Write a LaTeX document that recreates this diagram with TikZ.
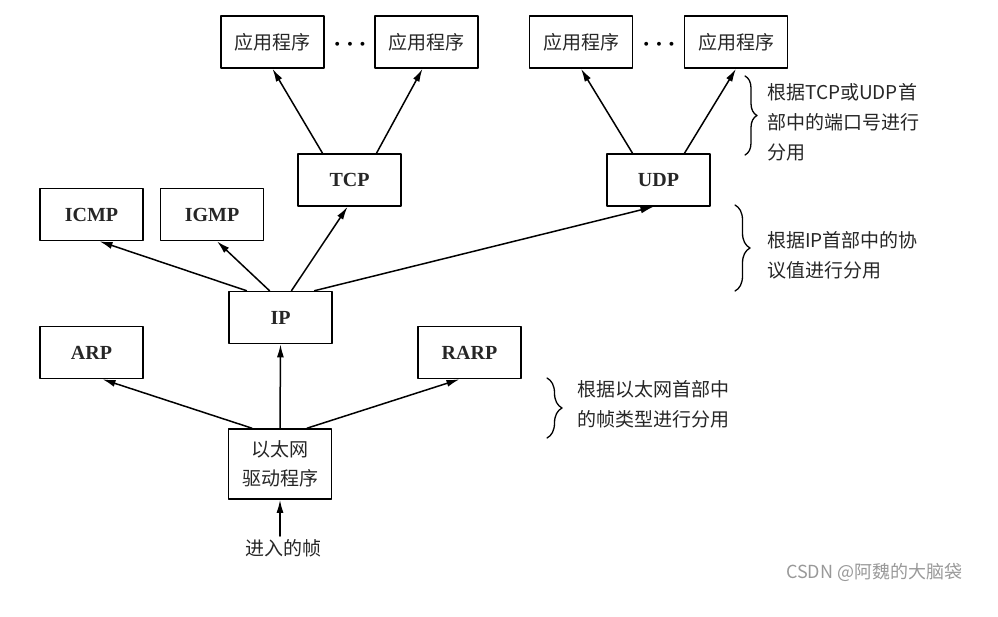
\documentclass[tikz,border=0pt]{standalone}
\usepackage{fontspec}
\setmainfont{Liberation Serif}
\newfontfamily\cjk{Noto Sans CJK SC}
\newfontfamily\wmfont{Noto Sans CJK SC}
\usetikzlibrary{calc,arrows.meta,decorations.pathreplacing}

\begin{document}
\begin{tikzpicture}[x=1pt,y=-1pt,line cap=round,line join=round,
    modul/.style={draw, line width=1.6pt, minimum width=103pt, minimum height=52pt, inner sep=0pt,
                  text=black!85, font=\bfseries\fontsize{20}{22}\selectfont},
    cjkmodul/.style={modul, font=\cjk\fontsize{19}{29}\selectfont, align=center},
    pfeil/.style={-{Latex[length=13pt,width=7pt]}, line width=1.5pt},
    zhu/.style={font=\cjk\fontsize{19}{30}\selectfont, text=black!85, align=left, anchor=west, inner sep=0pt},
    klammer/.style={decorate, decoration={brace, amplitude=#1}, line width=1.3pt},
    punkte/.style={font=\boldmath\fontsize{24}{24}\selectfont, inner sep=0pt}]
    \useasboundingbox (0,0) rectangle (998,616);

    % 应用程序层
    \node[cjkmodul] (app1) at (272.5,42) {应用程序};
    \node[cjkmodul] (app2) at (426.5,42) {应用程序};
    \node[cjkmodul] (app3) at (581,42) {应用程序};
    \node[cjkmodul] (app4) at (736,42) {应用程序};
    \node[punkte] (dots1) at (350,45) {$\cdots$};
    \node[punkte] (dots2) at (659,45) {$\cdots$};

    % 传输层与网络层
    \node[modul] (tcp) at (349.5,180) {TCP};
    \node[modul] (udp) at (658.5,180) {UDP};
    \node[modul] (icmp) at (91.5,214.5) {ICMP};
    \node[modul] (igmp) at (212,214.5) {IGMP};
    \node[modul] (ip) at (280.5,317.5) {IP};
    \node[modul] (arp) at (91.5,352.5) {ARP};
    \node[modul] (rarp) at (469.5,352.5) {RARP};

    % 以太网驱动程序
    \node[cjkmodul, minimum height=70pt] (eth) at (280,464) {以太网\\驱动程序};
    \node[font=\cjk\fontsize{19}{22}\selectfont, text=black!85, inner sep=3pt] (ein) at (283,548) {进入的帧};

    % 分用箭头
    \draw[pfeil] ($(tcp.north)+(-27,0)$) -- (app1.south);
    \draw[pfeil] ($(tcp.north)+(27,0)$) -- ($(app2.south)+(-4,0)$);
    \draw[pfeil] ($(udp.north)+(-26,0)$) -- (app3.south);
    \draw[pfeil] ($(udp.north)+(26,0)$) -- (app4.south);
    \draw[pfeil] ($(ip.north)+(-34,0)$) -- ($(icmp.south)+(8,0)$);
    \draw[pfeil] ($(ip.north)+(-11,0)$) -- ($(igmp.south)+(5,0)$);
    \draw[pfeil] ($(ip.north)+(11,0)$) -- ($(tcp.south)+(-2,0)$);
    \draw[pfeil] ($(ip.north)+(34,0)$) -- ($(udp.south)+(-5,0)$);
    \draw[pfeil] ($(eth.north)+(-28,0)$) -- ($(arp.south)+(11,0)$);
    \draw[pfeil] (eth.north) -- (ip.south);
    \draw[pfeil] ($(eth.north)+(27,0)$) -- ($(rarp.south)+(-10,0)$);
    \draw[pfeil] (eth.south |- ein.north) -- (eth.south);

    % 右侧的花括号与说明
    \draw[klammer=12pt] (745,76) -- (745,155);
    \node[zhu] (note1) at (767,122.5) {根据TCP或UDP首\\部中的端口号进行\\分用};
    \draw[klammer=15pt] (735,205) -- (735,291);
    \node[zhu] (note2) at (767,255) {根据IP首部中的协\\议值进行分用};
    \draw[klammer=15pt] (547,378) -- (547,438);
    \node[zhu] (note3) at (577,404) {根据以太网首部中\\的帧类型进行分用};

    % 水印
    \node[font=\wmfont\fontsize{18}{20}\selectfont, text=black!40, anchor=west, inner sep=0pt] (wm) at (786,572) {CSDN @阿魏的大脑袋};
\end{tikzpicture}
\end{document}
